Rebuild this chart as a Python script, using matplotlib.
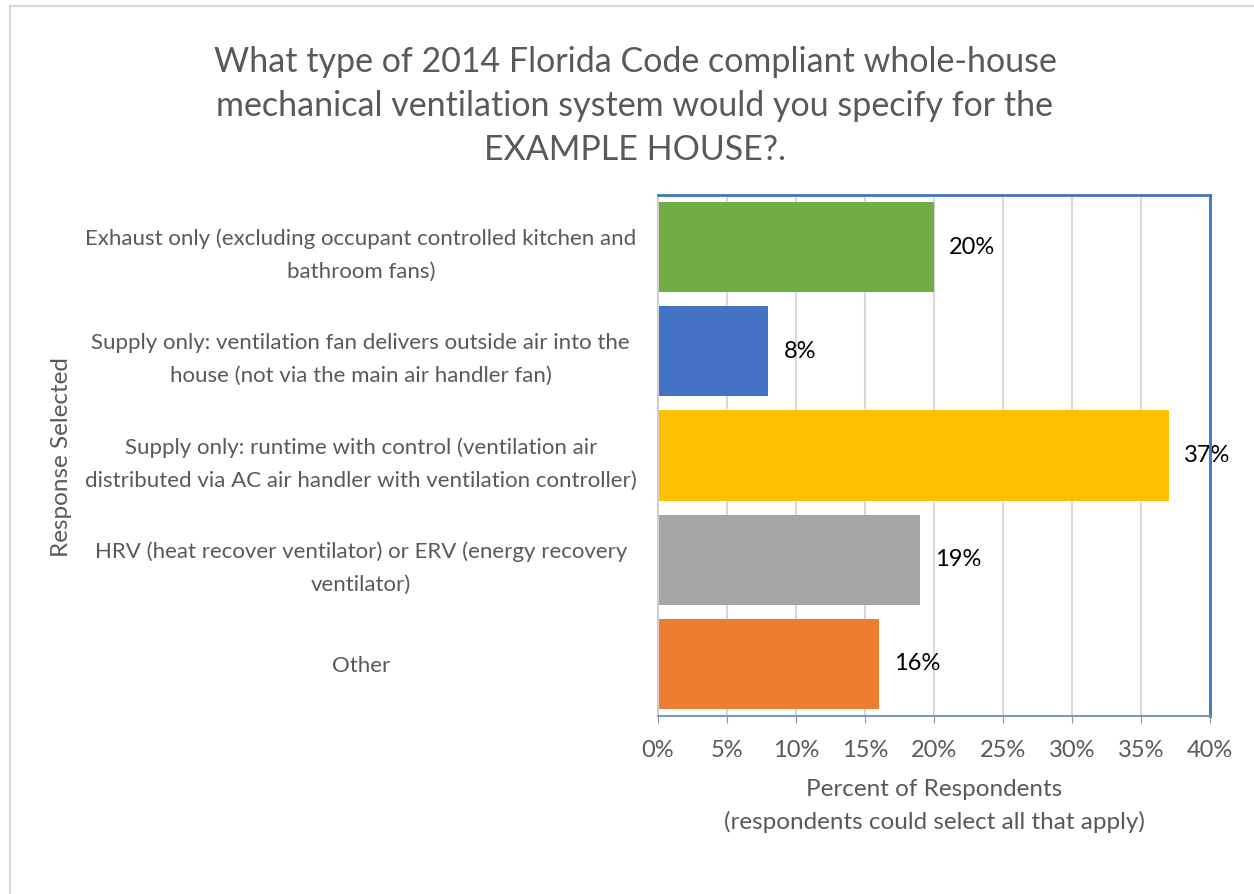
import matplotlib.pyplot as plt
from matplotlib.lines import Line2D

categories = [
    "Exhaust only (excluding occupant controlled kitchen and\nbathroom fans)",
    "Supply only: ventilation fan delivers outside air into the\nhouse (not via the main air handler fan)",
    "Supply only: runtime with control (ventilation air\ndistributed via AC air handler with ventilation controller)",
    "HRV (heat recover ventilator) or ERV (energy recovery\nventilator)",
    "Other",
]
values = [20, 8, 37, 19, 16]
colors = ["#70AD47", "#4472C4", "#FFC000", "#A5A5A5", "#ED7D31"]
xticks = [0, 5, 10, 15, 20, 25, 30, 35, 40]

plt.rcParams['font.family'] = ['Lato', 'DejaVu Sans']
gray = "#595959"

fig = plt.figure(figsize=(12.54, 8.94), dpi=100)
W, H = 1254, 894
ax = fig.add_axes([658 / W, 1 - 716 / H, (1210 - 658) / W, (716 - 195) / H])

ypos = list(range(len(values)))
ax.barh(ypos, values, height=0.865, color=colors, zorder=1)
for y, v in zip(ypos, values):
    ax.annotate(f"{v}%", xy=(v, y), xytext=(11, 0), textcoords="offset points",
                va="center", ha="left", fontsize=17, color="black", zorder=2)

ax.set_ylim(len(values) - 0.5, -0.5)
ax.set_xlim(0, 40)
ax.set_xticks(xticks)
ax.set_xticklabels([f"{t}%" for t in xticks], fontsize=17, color=gray)
ax.set_yticks(ypos)
ax.set_yticklabels(categories, fontsize=16, color=gray, ha="center", multialignment="center",
                   linespacing=1.8)
ax.tick_params(axis="y", length=0, pad=214)
ax.tick_params(axis="x", length=5, color="#8497B0", pad=12)
ax.grid(axis="x", color="#D9D9D9", linewidth=1.5, zorder=0)
ax.set_axisbelow(True)

ax.spines["left"].set_color("#D0D0D0")
ax.spines["left"].set_linewidth(1.5)
ax.spines["top"].set_color("#4472C4")
ax.spines["right"].set_color("#4472C4")
ax.spines["top"].set_linewidth(2)
ax.spines["right"].set_linewidth(2)
ax.spines["bottom"].set_color("#8497B0")
ax.spines["bottom"].set_linewidth(1.5)

ax.set_xlabel("Percent of Respondents\n(respondents could select all that apply)", fontsize=17.5,
              color=gray, labelpad=13, linespacing=1.6)
fig.text(62 / W, 1 - 457 / H, "Response Selected", rotation=90, fontsize=17.5, color=gray,
         ha="center", va="center")

fig.text(635 / W, 1 - 106 / H,
         "What type of 2014 Florida Code compliant whole-house\nmechanical ventilation system would you specify for the\nEXAMPLE HOUSE?.",
         fontsize=24.5, color=gray, ha="center", va="center", linespacing=1.45)

# outer chart frame, only left and top edges are visible
fig.add_artist(Line2D([10 / W, 10 / W], [0, 1 - 6 / H], transform=fig.transFigure,
                      color="#D9D9D9", linewidth=1.5))
fig.add_artist(Line2D([10 / W, 1], [1 - 6 / H, 1 - 6 / H], transform=fig.transFigure,
                      color="#D9D9D9", linewidth=1.5))

fig.savefig("out.png", dpi=100)
